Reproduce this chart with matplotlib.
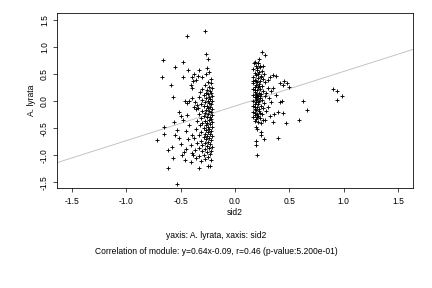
import numpy as np
import matplotlib
matplotlib.use('Agg')
import matplotlib.pyplot as plt

plt.rcParams['font.family'] = ['Liberation Sans', 'DejaVu Sans']

# points (sid2, A. lyrata)
left_dense = [(-0.25, 0.35), (-0.22, 0.33), (-0.28, 0.30), (-0.24, 0.27), (-0.21, 0.25), (-0.30, 0.22),
              (-0.26, 0.21), (-0.23, 0.19), (-0.32, 0.17), (-0.27, 0.16), (-0.22, 0.15), (-0.25, 0.13),
              (-0.29, 0.11), (-0.21, 0.10), (-0.24, 0.08), (-0.33, 0.07), (-0.27, 0.05), (-0.23, 0.04),
              (-0.30, 0.02), (-0.25, 0.01), (-0.21, 0.00), (-0.28, -0.02), (-0.24, -0.03), (-0.31, -0.05),
              (-0.22, -0.06), (-0.26, -0.08), (-0.29, -0.09), (-0.23, -0.11), (-0.34, -0.12), (-0.25, -0.13),
              (-0.21, -0.15), (-0.27, -0.16), (-0.30, -0.18), (-0.24, -0.19), (-0.22, -0.20), (-0.28, -0.22),
              (-0.33, -0.23), (-0.25, -0.24), (-0.21, -0.26), (-0.29, -0.27), (-0.23, -0.29), (-0.26, -0.30),
              (-0.31, -0.32), (-0.22, -0.33), (-0.24, -0.35), (-0.28, -0.36), (-0.35, -0.37), (-0.21, -0.38),
              (-0.26, -0.40), (-0.30, -0.41), (-0.23, -0.42), (-0.27, -0.44), (-0.32, -0.45), (-0.25, -0.47),
              (-0.21, -0.48), (-0.29, -0.50), (-0.24, -0.51), (-0.36, -0.52), (-0.27, -0.54), (-0.22, -0.55),
              (-0.31, -0.57), (-0.25, -0.58), (-0.28, -0.60), (-0.23, -0.61), (-0.33, -0.62), (-0.26, -0.64),
              (-0.21, -0.65), (-0.29, -0.67), (-0.24, -0.68), (-0.38, -0.69), (-0.27, -0.71), (-0.22, -0.72),
              (-0.31, -0.74), (-0.25, -0.75), (-0.35, -0.77), (-0.28, -0.78), (-0.23, -0.80), (-0.30, -0.81),
              (-0.26, -0.83), (-0.21, -0.84), (-0.33, -0.86), (-0.24, -0.87), (-0.28, -0.89), (-0.37, -0.90),
              (-0.22, -0.92), (-0.30, -0.93), (-0.26, -0.95), (-0.40, -0.96), (-0.23, -0.98), (-0.29, -0.99),
              (-0.33, -1.01), (-0.25, -1.03), (-0.36, -1.05), (-0.28, -1.07), (-0.22, -1.09), (-0.31, -1.11)]

left_sparse = [(-0.44, 1.20), (-0.28, 1.30), (-0.66, 0.77), (-0.48, 0.73), (-0.27, 0.87), (-0.25, 0.78),
               (-0.55, 0.63), (-0.67, 0.44), (-0.43, 0.57), (-0.38, 0.51), (-0.33, 0.57), (-0.26, 0.62),
               (-0.48, 0.44), (-0.40, 0.45), (-0.34, 0.47), (-0.30, 0.45), (-0.22, 0.42), (-0.36, 0.40),
               (-0.27, 0.50), (-0.24, 0.55), (-0.57, 0.07), (-0.59, 0.30), (-0.46, 0.00), (-0.44, -0.04),
               (-0.42, 0.00), (-0.40, 0.25), (-0.41, 0.30), (-0.39, 0.38), (-0.40, 0.05), (-0.37, -0.02),
               (-0.38, -0.10), (-0.36, -0.15), (-0.35, -0.07), (-0.52, -0.20), (-0.50, -0.28), (-0.48, -0.35),
               (-0.56, -0.38), (-0.65, -0.48), (-0.65, -0.60), (-0.72, -0.72), (-0.62, -0.91), (-0.62, -1.23),
               (-0.575, -1.06), (-0.55, -0.63), (-0.535, -0.54), (-0.46, -1.09), (-0.41, -1.12), (-0.33, -1.23),
               (-0.25, -1.20), (-0.23, -1.21), (-0.53, -1.54), (-0.45, -0.55), (-0.43, -0.70), (-0.50, -0.80),
               (-0.45, -0.88), (-0.47, -0.95), (-0.42, -0.45), (-0.44, -0.25), (-0.40, -0.62), (-0.41, -0.82),
               (-0.39, -1.00), (-0.52, -0.68), (-0.58, -0.85), (-0.49, -1.00)]

right_dense = [(0.18, 0.72), (0.21, 0.70), (0.19, 0.66), (0.23, 0.63), (0.17, 0.60), (0.20, 0.58),
               (0.25, 0.56), (0.22, 0.54), (0.18, 0.52), (0.27, 0.50), (0.19, 0.48), (0.24, 0.47),
               (0.17, 0.45), (0.21, 0.43), (0.26, 0.42), (0.18, 0.40), (0.23, 0.38), (0.20, 0.36),
               (0.28, 0.35), (0.17, 0.33), (0.22, 0.32), (0.19, 0.30), (0.25, 0.29), (0.18, 0.27),
               (0.21, 0.26), (0.30, 0.25), (0.17, 0.23), (0.23, 0.22), (0.20, 0.20), (0.26, 0.19),
               (0.18, 0.17), (0.22, 0.16), (0.19, 0.14), (0.24, 0.13), (0.17, 0.11), (0.21, 0.10),
               (0.28, 0.09), (0.18, 0.07), (0.23, 0.06), (0.20, 0.04), (0.25, 0.03), (0.17, 0.01),
               (0.22, 0.00), (0.19, -0.02), (0.27, -0.03), (0.18, -0.05), (0.21, -0.06), (0.24, -0.08),
               (0.17, -0.09), (0.20, -0.11), (0.26, -0.12), (0.18, -0.14), (0.22, -0.15), (0.19, -0.17),
               (0.29, -0.18), (0.17, -0.20), (0.23, -0.21), (0.20, -0.23), (0.25, -0.24), (0.18, -0.26),
               (0.21, -0.28), (0.17, -0.30), (0.23, -0.31), (0.19, -0.33), (0.26, -0.34), (0.18, -0.36),
               (0.21, -0.38), (0.24, -0.40), (0.20, 0.62), (0.24, 0.44), (0.19, 0.38), (0.22, 0.28),
               (0.18, 0.21), (0.20, 0.12), (0.23, 0.09), (0.19, 0.02), (0.21, -0.01), (0.18, -0.10),
               (0.22, -0.18), (0.20, -0.30), (0.17, 0.37), (0.21, 0.50), (0.19, 0.08), (0.18, -0.22)]

right_sparse = [(0.245, 0.91), (0.28, 0.85), (0.22, 0.79), (0.175, 0.71), (0.21, 0.71), (0.23, 0.65),
                (0.26, 0.66), (0.35, 0.49), (0.38, 0.47), (0.32, 0.45), (0.30, 0.40), (0.45, 0.37),
                (0.41, 0.33), (0.48, 0.33), (0.50, 0.27), (0.44, 0.30), (0.35, 0.25), (0.33, 0.18),
                (0.38, 0.12), (0.31, 0.05), (0.43, 0.00), (0.41, -0.02), (0.33, -0.02), (0.40, -0.20),
                (0.44, -0.22), (0.36, -0.24), (0.35, -0.38), (0.28, -0.35), (0.63, 0.00), (0.66, -0.17),
                (0.59, -0.35), (0.47, -0.40), (0.40, -0.69), (0.27, -0.70), (0.19, -0.82), (0.20, -1.00),
                (0.19, -0.73), (0.24, -0.62), (0.24, -0.57), (0.19, -0.48), (0.20, -0.52), (0.30, -0.10),
                (0.32, -0.28), (0.29, 0.15), (0.90, 0.22), (0.94, 0.19), (0.99, 0.09), (0.94, 0.03)]

slope, intercept = 0.64, -0.09
ticks = [-1.5, -1.0, -0.5, 0.0, 0.5, 1.0, 1.5]
xlim = (-1.64, 1.64)
ylim = (-1.61, 1.635)

pts = np.array(left_dense + left_sparse + right_dense + right_sparse)

fig = plt.figure(figsize=(6, 4), dpi=72)
ax = fig.add_axes([0.132, 0.347, 0.824, 0.608])

xs = np.array(xlim)
ax.plot(xs, slope * xs + intercept, color='#c0c0c0', lw=0.9, zorder=1)
ax.scatter(pts[:, 0], pts[:, 1], marker='+', s=24, c='black', linewidths=0.9, zorder=2)

ax.set_xlim(*xlim)
ax.set_ylim(*ylim)
ax.set_xticks(ticks)
ax.set_yticks(ticks)
ax.set_xticklabels([f'{t:.1f}' for t in ticks], fontsize=8.5)
ax.set_yticklabels([f'{t:.1f}' for t in ticks], fontsize=8.5, rotation=90, va='center')
ax.tick_params(axis='x', direction='out', length=4, width=0.7, pad=5)
ax.tick_params(axis='y', direction='out', length=4, width=0.7, pad=4)
for s in ax.spines.values():
    s.set_linewidth(0.8)

ax.set_xlabel('sid2', fontsize=8.5, labelpad=2)
ax.set_ylabel('A. lyrata', fontsize=8.5, labelpad=4)

fig.text(0.5, 1 - 235 / 288, 'yaxis: A. lyrata, xaxis: sid2', ha='center', va='center', fontsize=8.5)
fig.text(0.5, 1 - 252 / 288,
         'Correlation of module: y=0.64x-0.09, r=0.46 (p-value:5.200e-01)',
         ha='center', va='center', fontsize=8.5)

fig.savefig('out.png', dpi=72)
